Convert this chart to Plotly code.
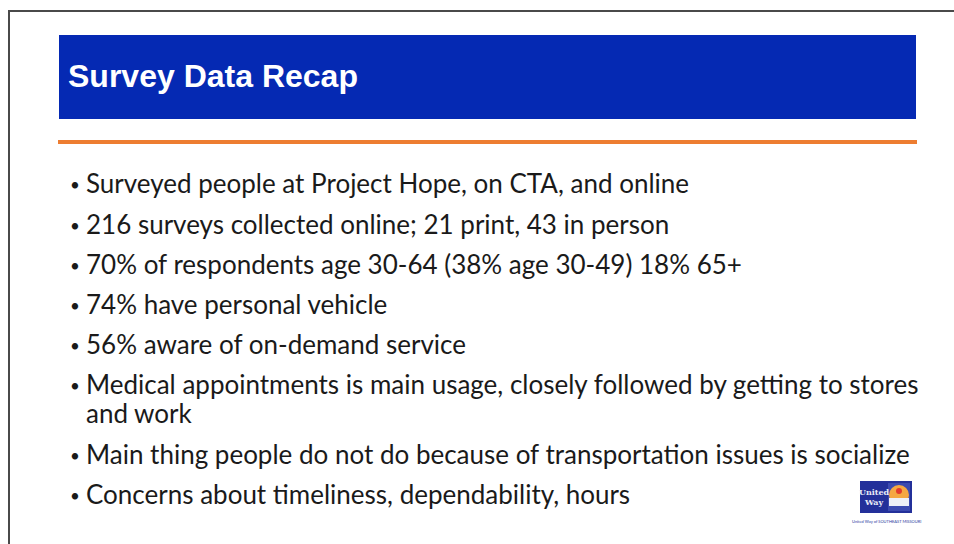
import plotly.graph_objects as go

# Slide content: each bullet is a list of its wrapped lines
title_text = "Survey Data Recap"
bullets = [
    ["Surveyed people at Project Hope, on CTA, and online"],
    ["216 surveys collected online; 21 print, 43 in person"],
    ["70% of respondents age 30-64 (38% age 30-49) 18% 65+"],
    ["74% have personal vehicle"],
    ["56% aware of on-demand service"],
    ["Medical appointments is main usage, closely followed by getting to stores",
     "and work"],
    ["Main thing people do not do because of transportation issues is socialize"],
    ["Concerns about timeliness, dependability, hours"],
]
bullet_y = [183, 224, 264, 304, 344, 384, 454, 494]
wrap_step = 29

W, H = 954, 544
BLUE = "#0529b3"
ORANGE = "#ed7d31"
TEXT = "#1a1a1a"
BORDER = "#4a4a4a"

fig = go.Figure()

shapes = [
    # slide border (top and left edges visible), drawn as one open path
    dict(type="path", path=f"M 9 {H} L 9 11 L {W} 11",
         line=dict(color=BORDER, width=2)),
    # title band
    dict(type="rect", x0=59, y0=35, x1=916, y1=119,
         line=dict(width=0), fillcolor=BLUE),
    # orange rule
    dict(type="line", x0=58, y0=142, x1=917, y1=142,
         line=dict(color=ORANGE, width=4)),
    # logo
    dict(type="rect", x0=860, y0=481, x1=912, y1=513,
         line=dict(width=0), fillcolor="#23309a"),
    dict(type="rect", x0=888, y0=483, x1=910, y1=511,
         line=dict(width=0), fillcolor="#3b4ab0"),
    dict(type="circle", x0=889, y0=485, x1=909, y1=505,
         line=dict(width=0), fillcolor="#f5a742"),
    dict(type="rect", x0=889, y0=498, x1=909, y1=506,
         line=dict(width=0), fillcolor="#eef0f7"),
    dict(type="circle", x0=896, y0=488, x1=902, y1=494,
         line=dict(width=0), fillcolor="#e23b2e"),
]

annotations = [
    dict(x=66, y=76, text="<b>" + title_text + "</b>", showarrow=False,
         xanchor="left", yanchor="middle",
         font=dict(family="Liberation Sans, Arial", size=32, color="white")),
]

for lines, y in zip(bullets, bullet_y):
    annotations.append(dict(
        x=75, y=y + 1, text="•", showarrow=False,
        xanchor="center", yanchor="middle",
        font=dict(family="Lato", size=17, color=TEXT)))
    for i, line in enumerate(lines):
        annotations.append(dict(
            x=84, y=y + i * wrap_step, text=line, showarrow=False, align="left",
            xanchor="left", yanchor="middle",
            font=dict(family="Lato", size=26, color=TEXT)))

annotations += [
    dict(x=874, y=497, text="<b>United<br>Way</b>", showarrow=False,
         xanchor="center", yanchor="middle",
         font=dict(family="DejaVu Serif", size=8, color="#e8eaf6")),
    dict(x=886, y=521, text="United Way of SOUTHEAST MISSOURI", showarrow=False,
         xanchor="center", yanchor="middle",
         font=dict(family="Lato", size=4, color="#2a3aa0")),
]

fig.update_layout(
    width=W, height=H,
    margin=dict(l=0, r=0, t=0, b=0),
    paper_bgcolor="white",
    plot_bgcolor="white",
    xaxis=dict(range=[0, W], visible=False, fixedrange=True),
    yaxis=dict(range=[H, 0], visible=False, fixedrange=True),
    shapes=shapes,
    annotations=annotations,
    showlegend=False,
)

fig.write_html(
    "out.html",
    config={"displayModeBar": False},
    post_script="document.body.style.margin='0';document.body.style.overflow='hidden';",
)
